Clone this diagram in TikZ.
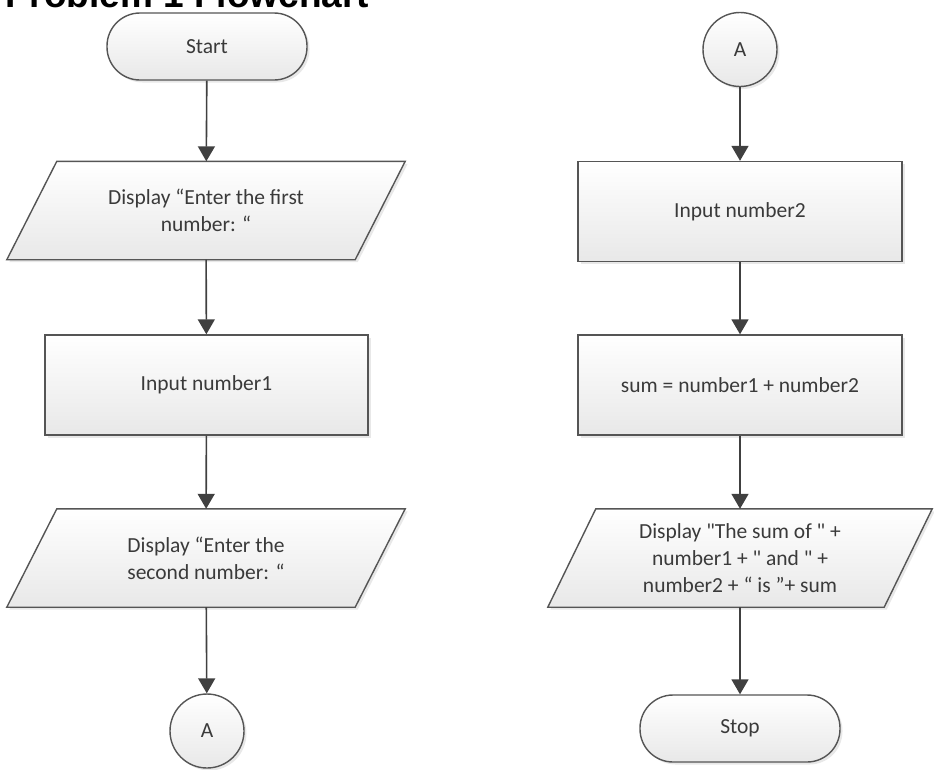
\documentclass[tikz,border=0pt]{standalone}
\usepackage{fontspec}
\setmainfont{Carlito}[Ligatures=TeXOff]
\newfontfamily\titlefont{Liberation Sans}
\usetikzlibrary{shadows,arrows.meta}
\pgfdeclarelayer{background}
\pgfsetlayers{background,main}
\definecolor{txt}{HTML}{3A3A3A}
\definecolor{edge}{HTML}{555555}
\definecolor{arr}{HTML}{404040}
\begin{document}
\begin{tikzpicture}[x=1pt,y=-1pt,
  shp/.style={draw=edge, line width=1.4pt, top color=white, bottom color=black!9,
    drop shadow={shadow xshift=2.5pt,shadow yshift=-2.5pt,opacity=0.18}},
  lbl/.style={font=\fontsize{21.5}{27}\selectfont, text=txt, align=center},
  procbox/.style={shp, lbl, rectangle, minimum width=323pt, minimum height=100pt, inner sep=0pt},
  term/.style={shp, lbl, rectangle, rounded corners=33pt, minimum width=200pt, minimum height=67pt, inner sep=0pt},
  conn/.style={shp, lbl, circle, minimum size=74pt, inner sep=0pt},
  iobox/.style={lbl, rectangle, minimum height=98pt, inner sep=0pt},
  arrow/.style={draw=arr, line width=1.6pt, -{Triangle[width=17pt,length=15pt]}}
]
\useasboundingbox (0,0) rectangle (934,769);
\clip (0,0) rectangle (934,769);
\node[anchor=base west, inner sep=0pt, font=\titlefont\bfseries\fontsize{37}{37}\selectfont] (title) at (5,7) {Problem 1 Flowchart};

% left column
\node[term] (start) at (207,46.5) {Start};
\node[iobox, minimum width=348pt] (p1) at (206,210.5) {Display “Enter the first\\number: “};
\node[procbox] (in1) at (206.5,385) {Input number1};
\node[iobox, minimum width=348pt] (p2) at (206,558) {Display “Enter the\\second number: “};
\node[conn] (a1) at (207,731) {A};

% right column
\node[conn] (a2) at (740,49.5) {A};
\node[procbox, minimum width=324pt] (in2) at (740,211.5) {Input number2};
\node[procbox, minimum width=324pt] (sum) at (740,385) {sum = number1 + number2};
\node[iobox, minimum width=336pt] (p3) at (740,558) {Display "The sum of " +\\number1 + " and " +\\number2 + “ is ”+ sum};
\node[term] (stop) at (740,728.5) {Stop};

\begin{pgfonlayer}{background}
\path[shp] ([xshift=25pt]p1.north west) -- ([xshift=25pt]p1.north east) -- ([xshift=-25pt]p1.south east) -- ([xshift=-25pt]p1.south west) -- cycle;
\path[shp] ([xshift=25pt]p2.north west) -- ([xshift=25pt]p2.north east) -- ([xshift=-25pt]p2.south east) -- ([xshift=-25pt]p2.south west) -- cycle;
\path[shp] ([xshift=24pt]p3.north west) -- ([xshift=24pt]p3.north east) -- ([xshift=-24pt]p3.south east) -- ([xshift=-24pt]p3.south west) -- cycle;
\end{pgfonlayer}

\draw[arrow] (start) -- (p1);
\draw[arrow] (p1) -- (in1);
\draw[arrow] (in1) -- (p2);
\draw[arrow] (p2) -- (a1);
\draw[arrow] (a2) -- (in2);
\draw[arrow] (in2) -- (sum);
\draw[arrow] (sum) -- (p3);
\draw[arrow] (p3) -- (stop);
\end{tikzpicture}
\end{document}
